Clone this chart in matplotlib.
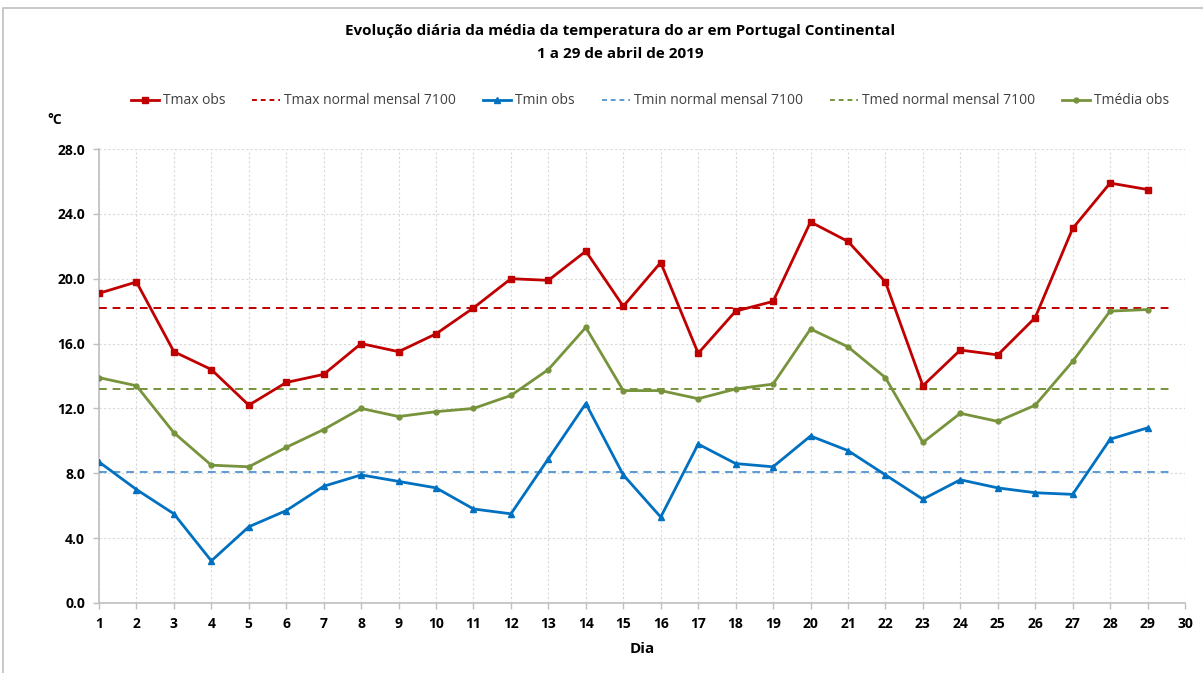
import matplotlib
matplotlib.use("Agg")
import matplotlib.pyplot as plt
from matplotlib.patches import Rectangle

dias = list(range(1, 30))
tmax_obs = [19.1, 19.8, 15.5, 14.4, 12.2, 13.6, 14.1, 16.0, 15.5, 16.6,
            18.2, 20.0, 19.9, 21.7, 18.3, 21.0, 15.4, 18.0, 18.6, 23.5,
            22.3, 19.8, 13.4, 15.6, 15.3, 17.6, 23.1, 25.9, 25.5]
tmin_obs = [8.7, 7.0, 5.5, 2.6, 4.7, 5.7, 7.2, 7.9, 7.5, 7.1,
            5.8, 5.5, 8.9, 12.3, 7.9, 5.3, 9.8, 8.6, 8.4, 10.3,
            9.4, 7.9, 6.4, 7.6, 7.1, 6.8, 6.7, 10.1, 10.8]
tmed_obs = [13.9, 13.4, 10.5, 8.5, 8.4, 9.6, 10.7, 12.0, 11.5, 11.8,
            12.0, 12.8, 14.4, 17.0, 13.1, 13.1, 12.6, 13.2, 13.5, 16.9,
            15.8, 13.9, 9.9, 11.7, 11.2, 12.2, 14.9, 18.0, 18.1]
tmax_normal = 18.2
tmin_normal = 8.1
tmed_normal = 13.2

xticks = list(range(1, 31))
yticks = [0, 4, 8, 12, 16, 20, 24, 28]

FONT = "Open Sans"
plt.rcParams['font.family'] = [FONT, 'DejaVu Sans']

W, H = 1203, 673
fig = plt.figure(figsize=(W / 100, H / 100), dpi=100)
fig.patches.append(Rectangle((3 / W, -0.1), 1.2, 1 - 8 / H + 0.1, transform=fig.transFigure,
                             fill=False, edgecolor='#BFBFBF', linewidth=1.2))

ax = fig.add_axes([99 / W, 1 - 603 / H, (1185 - 99) / W, (603 - 149) / H])

red = '#C00000'
blue = '#0070C0'
green = '#77933C'

l1, = ax.plot(dias, tmax_obs, color=red, lw=2.0, marker='s', ms=4.5, label='Tmax obs', zorder=5)
l2 = ax.axhline(tmax_normal, xmin=0, xmax=0.99, color=red, lw=1.4, ls=(0, (4, 3)), label='Tmax normal mensal 7100', zorder=3)
l3, = ax.plot(dias, tmin_obs, color=blue, lw=2.0, marker='^', ms=5, label='Tmin obs', zorder=5)
l4 = ax.axhline(tmin_normal, xmin=0, xmax=0.99, color='#5B9BD5', lw=1.4, ls=(0, (4, 3)), label='Tmin normal mensal 7100', zorder=3)
l5 = ax.axhline(tmed_normal, xmin=0, xmax=0.99, color=green, lw=1.4, ls=(0, (4, 3)), label='Tmed normal mensal 7100', zorder=3)
l6, = ax.plot(dias, tmed_obs, color=green, lw=2.0, marker='o', ms=3.5, label='Tmédia obs', zorder=5)

ax.set_xlim(1, 30)
ax.set_ylim(0, 28)
ax.set_xticks(xticks)
ax.set_yticks(yticks)
ax.set_yticklabels([f"{v:.1f}" for v in yticks])
ax.grid(True, color='#D9D9D9', lw=0.8, ls=(0, (2, 2)))
ax.set_axisbelow(True)
for s in ['top', 'right']:
    ax.spines[s].set_visible(False)
for s in ['left', 'bottom']:
    ax.spines[s].set_color('#BFBFBF')
    ax.spines[s].set_linewidth(1.2)
ax.tick_params(axis='both', colors='#BFBFBF', length=4, width=1, labelcolor='black', labelsize=10)
for lab in ax.get_xticklabels() + ax.get_yticklabels():
    lab.set_fontweight('bold')
ax.tick_params(axis='x', pad=6)
ax.tick_params(axis='y', pad=6)

ax.set_xlabel('Dia', fontsize=11, fontweight='bold', labelpad=8)

fig.text(620 / W, 1 - 31 / H, 'Evolução diária da média da temperatura do ar em Portugal Continental',
         ha='center', va='center', fontsize=11, fontweight='bold')
fig.text(620 / W, 1 - 54 / H, '1 a 29 de abril de 2019',
         ha='center', va='center', fontsize=11, fontweight='bold')
fig.text(55 / W, 1 - 120 / H, '°C', ha='center', va='center', fontsize=10, fontweight='bold')

leg = fig.legend(handles=[l1, l2, l3, l4, l5, l6], loc='center', bbox_to_anchor=(650 / W, 1 - 101 / H),
                 ncol=6, frameon=False, fontsize=10, handlelength=2.0, columnspacing=1.95, handletextpad=0.3)
for t in leg.get_texts():
    t.set_color('#404040')
for h in leg.legend_handles[1:2] + leg.legend_handles[3:5]:
    h.set_linestyle((0, (2.5, 2)))

fig.savefig('out.png', dpi=100)
